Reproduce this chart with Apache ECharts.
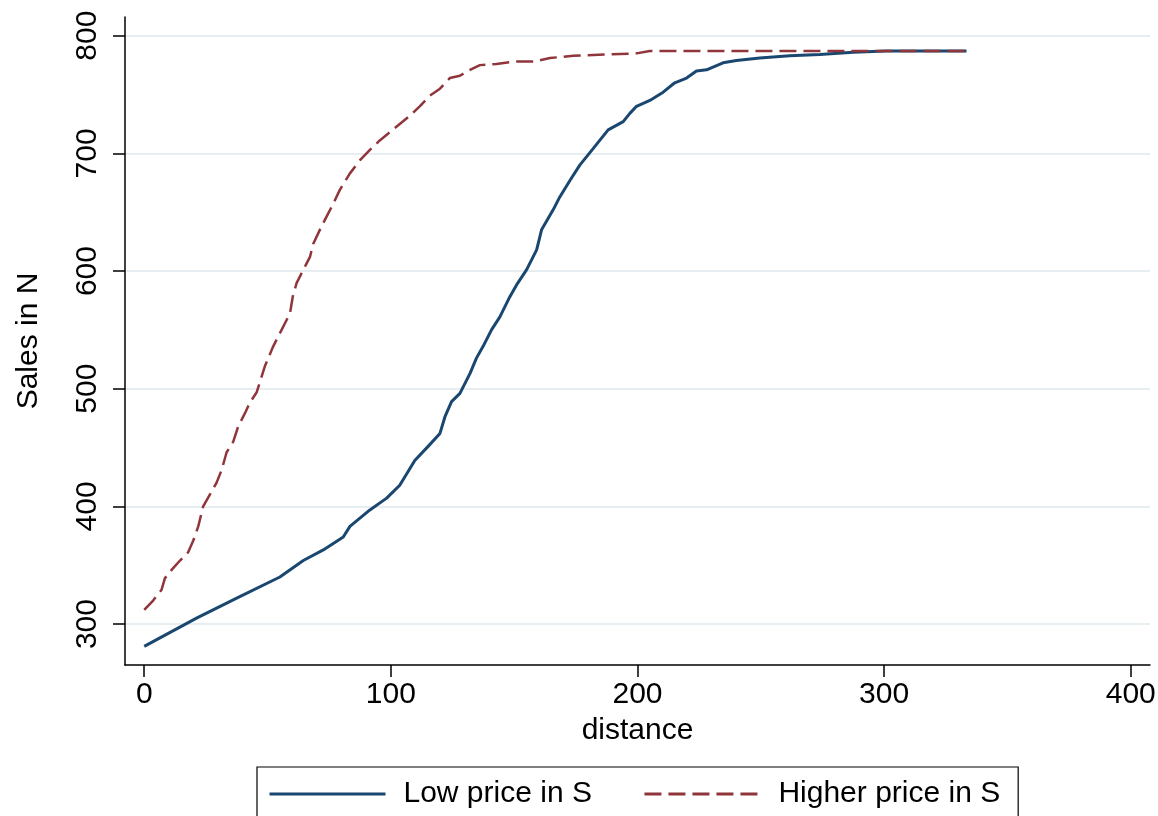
<!DOCTYPE html>
<html>
<head>
<meta charset="utf-8">
<title>Sales by distance</title>
<script src="https://cdn.jsdelivr.net/npm/echarts@6/dist/echarts.min.js"></script>
<style>
  html, body { margin: 0; padding: 0; background: #ffffff; }
  #chart { width: 1158px; height: 816px; }
</style>
</head>
<body>
<div id="chart"></div>
<script>
// Cumulative sales in N against distance, for the two price regimes in S
const seriesNames = ['Low price in S', 'Higher price in S'];

const lowDistance = [0, 21.2, 37.5, 55, 64.5, 72.6, 80.7, 83.4, 91.5, 98.3, 103.6, 109.7, 115.1, 119.9,
  121.9, 124.6, 128, 132.1, 134.7, 137.4, 140.8, 144.2, 148.2, 150.9, 155, 159.1, 161.1, 165.8, 168.5,
  172.6, 176.6, 182, 188.1, 194.2, 196.9, 199.6, 205, 210.4, 215.1, 219.9, 223.9, 228, 234.7, 240.1,
  249.6, 261.7, 273.9, 287.4, 300.9, 333.4];
const lowSales = [281, 305, 322, 340, 354, 363, 374, 383, 397, 407, 418, 439, 451, 462,
  476, 489, 496, 513, 526, 536, 550, 561, 578, 588, 601, 618, 635, 652, 663,
  677, 690, 704, 720, 727, 734, 740, 745, 752, 760, 764, 770, 771, 777, 779,
  781, 783, 784, 786, 787, 787];

const highDistance = [0, 3.6, 7, 8.4, 11.1, 14.5, 17.8, 19.9, 21.9, 23.9, 26.6, 29.3, 31.4, 33.4, 36.1,
  38.1, 40.8, 42.8, 45.6, 48.9, 52.3, 55.7, 59.1, 60.2, 61.8, 64.5, 67.2, 68.5, 71.2, 74.6, 76.6, 79.3,
  83.4, 87.4, 91.5, 95.5, 99.6, 103.6, 107.7, 111.7, 115.8, 119.9, 123.9, 128, 132.1, 136.1, 142.8,
  149.6, 157.7, 164.5, 173.9, 199.6, 205, 333.4];
const highSales = [312, 320, 329, 339, 346, 354, 361, 371, 383, 400, 410, 420, 431, 446, 455,
  468, 479, 488, 497, 519, 536, 550, 564, 578, 590, 601, 612, 623, 635, 649, 657, 669,
  683, 694, 703, 711, 718, 725, 732, 740, 749, 755, 764, 766, 771, 775, 776,
  778, 778, 781, 783, 785, 787, 787];

const xTicks = [0, 100, 200, 300, 400];
const yTicks = [300, 400, 500, 600, 700, 800];

const pairs = (xs, ys) => xs.map((x, i) => [x, ys[i]]);

const FONT = "'Liberation Sans', Arial, Helvetica, sans-serif";
const INK = '#000000';

const chart = echarts.init(document.getElementById('chart'), null, { renderer: 'canvas' });

chart.setOption({
  animation: false,
  backgroundColor: '#ffffff',
  textStyle: { fontFamily: FONT, color: INK },
  grid: {
    left: 125, right: 8, top: 17, bottom: 151,
    containLabel: false,
    outerBoundsMode: 'none'
  },
  xAxis: {
    type: 'value',
    min: -7.8,
    max: 407.8,
    name: 'distance',
    nameLocation: 'middle',
    nameGap: 51,
    nameTextStyle: { fontSize: 30, fontFamily: FONT, color: INK },
    axisLine: { show: true, onZero: false, lineStyle: { color: INK, width: 1.5 } },
    axisTick: { show: true, inside: false, length: 12, customValues: xTicks, lineStyle: { color: INK, width: 1.5 } },
    axisLabel: { show: true, customValues: xTicks, margin: 15, fontSize: 30, fontFamily: FONT, color: INK },
    splitLine: { show: false }
  },
  yAxis: {
    type: 'value',
    min: 265.2,
    max: 815.9,
    name: 'Sales in N',
    nameLocation: 'middle',
    nameGap: 81,
    nameTextStyle: { fontSize: 30, fontFamily: FONT, color: INK },
    axisLine: { show: true, onZero: false, lineStyle: { color: INK, width: 1.5 } },
    axisTick: { show: true, inside: false, length: 12, customValues: yTicks, lineStyle: { color: INK, width: 1.5 } },
    axisLabel: { show: true, customValues: yTicks, rotate: 90, margin: 22, fontSize: 30, fontFamily: FONT, color: INK },
    splitLine: { show: true, lineStyle: { color: '#e6eef1', width: 2 } }
  },
  legend: {
    left: 257,
    top: 767,
    orient: 'horizontal',
    padding: [12, 18, 12, 11],
    borderColor: INK,
    borderWidth: 1.2,
    borderRadius: 0,
    itemWidth: 116,
    itemHeight: 14,
    itemGap: 51,
    itemStyle: { opacity: 0 },
    lineStyle: { width: 3 },
    textStyle: { fontSize: 30, fontFamily: FONT, color: INK, padding: [0, 0, 0, 13] },
    data: seriesNames
  },
  series: [
    {
      name: seriesNames[0],
      type: 'line',
      data: pairs(lowDistance, lowSales),
      symbol: 'none',
      showSymbol: false,
      smooth: false,
      z: 3,
      lineStyle: { color: '#1a476f', width: 3 },
      itemStyle: { color: '#1a476f' }
    },
    {
      name: seriesNames[1],
      type: 'line',
      data: pairs(highDistance, highSales),
      symbol: 'none',
      showSymbol: false,
      smooth: false,
      z: 4,
      lineStyle: { color: '#90353b', width: 2.5, type: [17, 7] },
      itemStyle: { color: '#90353b' }
    }
  ]
});
</script>
</body>
</html>
